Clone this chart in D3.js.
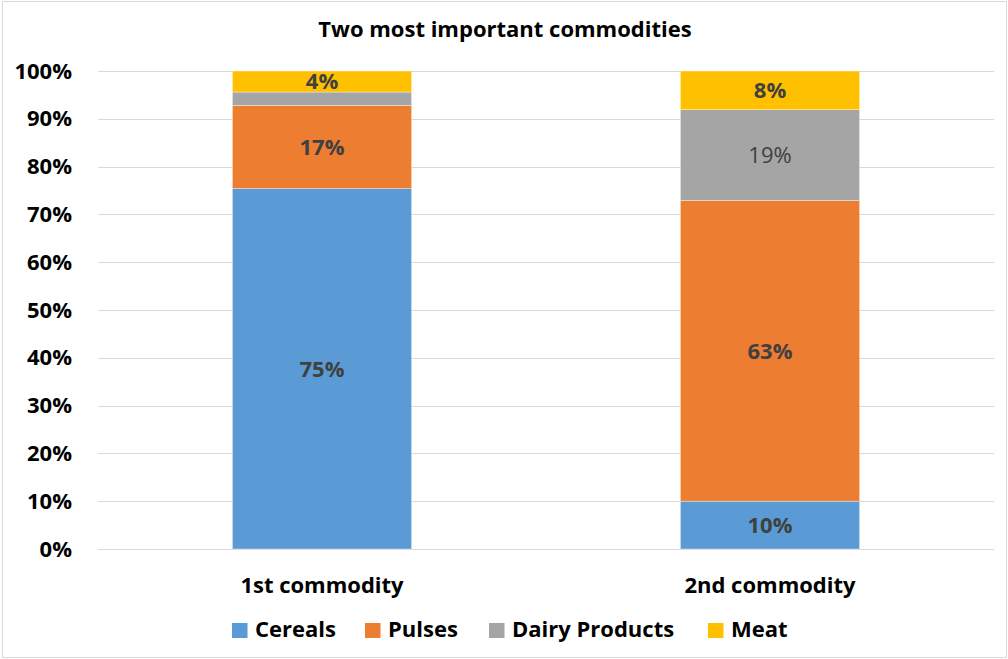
<!DOCTYPE html>
<html>
<head>
<meta charset="utf-8">
<script src="https://cdn.jsdelivr.net/npm/d3@7"></script>
<style>
  html, body { margin: 0; padding: 0; background: #fff; }
  svg text { font-family: "Open Sans", Lato, sans-serif; }
</style>
</head>
<body>
<svg id="chart" width="1008" height="659"></svg>
<script>
// Share of respondents naming each commodity group
const categories = ["1st commodity", "2nd commodity"];
const seriesNames = ["Cereals", "Pulses", "Dairy Products", "Meat"];
const cereals = [75.4, 10.0];
const pulses = [17.4, 62.9];
const dairy = [2.8, 19.0];
const meat = [4.4, 8.1];
// Printed labels per segment (null = not labelled)
const cerealsLabels = ["75%", "10%"];
const pulsesLabels = ["17%", "63%"];
const dairyLabels = [null, "19%"];
const meatLabels = ["4%", "8%"];
const yTicks = [0, 10, 20, 30, 40, 50, 60, 70, 80, 90, 100];

const colors = ["#5b9bd5", "#ed7d31", "#a5a5a5", "#ffc000"];
const seriesValues = [cereals, pulses, dairy, meat];
const seriesLabels = [cerealsLabels, pulsesLabels, dairyLabels, meatLabels];

const FS = 22;
const svg = d3.select("#chart");
const W = 1008, H = 659;
const plot = { left: 98, right: 994, top: 71, bottom: 549 };

// outer frame
svg.append("rect")
  .attr("x", 2.5).attr("y", 1.5)
  .attr("width", W - 4).attr("height", H - 3)
  .attr("fill", "#fff").attr("stroke", "#d9d9d9").attr("stroke-width", 1);

const x = d3.scaleBand()
  .domain(categories)
  .range([plot.left, plot.right])
  .paddingInner(0.6)
  .paddingOuter(0.3);

const y = d3.scaleLinear().domain([0, 100]).range([plot.bottom, plot.top]);

// gridlines
svg.append("g")
  .selectAll("line")
  .data(yTicks)
  .join("line")
  .attr("x1", plot.left).attr("x2", plot.right)
  .attr("y1", d => Math.round(y(d)) + 0.5).attr("y2", d => Math.round(y(d)) + 0.5)
  .attr("stroke", "#d9d9d9").attr("stroke-width", 1);

// y axis labels
const yAxis = d3.axisLeft(y).tickValues(yTicks).tickFormat(d => d + "%").tickSize(0).tickPadding(0);
const yg = svg.append("g").attr("transform", `translate(72,0)`).call(yAxis);
yg.select(".domain").remove();
yg.selectAll("text")
  .attr("font-size", FS).attr("font-weight", "bold").attr("fill", "#000")
  .style("font-family", "'Open Sans', sans-serif");

// stacked data
const rows = categories.map((c, i) => {
  const r = { cat: c };
  seriesNames.forEach((s, j) => r[s] = seriesValues[j][i]);
  return r;
});
const stack = d3.stack().keys(seriesNames)(rows);

const layers = svg.append("g").selectAll("g")
  .data(stack)
  .join("g")
  .attr("fill", (d, i) => colors[i]);

layers.selectAll("rect")
  .data(d => d)
  .join("rect")
  .attr("x", d => x(d.data.cat))
  .attr("width", x.bandwidth())
  .attr("y", d => y(d[1]))
  .attr("height", d => y(d[0]) - y(d[1]))
  .attr("stroke", "#fff")
  .attr("stroke-width", 0.6)
  .attr("stroke-opacity", 0.6);

// segment labels
stack.forEach((layer, i) => {
  layer.forEach((d, k) => {
    const lbl = seriesLabels[i][k];
    if (!lbl) return;
    svg.append("text")
      .attr("x", x(d.data.cat) + x.bandwidth() / 2)
      .attr("y", (y(d[0]) + y(d[1])) / 2)
      .attr("dy", "0.36em")
      .attr("text-anchor", "middle")
      .attr("font-size", FS)
      .attr("font-weight", i === 2 ? "normal" : "bold")
      .attr("fill", "#404040")
      .text(lbl);
  });
});

// category axis labels
const xAxis = d3.axisBottom(x).tickSize(0).tickPadding(0);
const xg = svg.append("g").attr("transform", `translate(0,593)`).call(xAxis);
xg.select(".domain").remove();
xg.selectAll("text")
  .attr("font-size", FS).attr("font-weight", "bold").attr("fill", "#000")
  .attr("dy", 0).attr("y", 0)
  .style("font-family", "'Open Sans', sans-serif");

// title
svg.append("text")
  .attr("x", 505).attr("y", 37)
  .attr("text-anchor", "middle")
  .attr("font-size", FS).attr("font-weight", "bold").attr("fill", "#000")
  .text("Two most important commodities");

// legend
const legendX = [232, 365, 489, 708];
const lg = svg.append("g");
seriesNames.forEach((s, i) => {
  lg.append("rect")
    .attr("x", legendX[i]).attr("y", 623)
    .attr("width", 15.5).attr("height", 15)
    .attr("fill", colors[i]);
  lg.append("text")
    .attr("x", legendX[i] + 23).attr("y", 637)
    .attr("font-size", FS).attr("font-weight", "bold").attr("fill", "#000")
    .text(s);
});
</script>
</body>
</html>
